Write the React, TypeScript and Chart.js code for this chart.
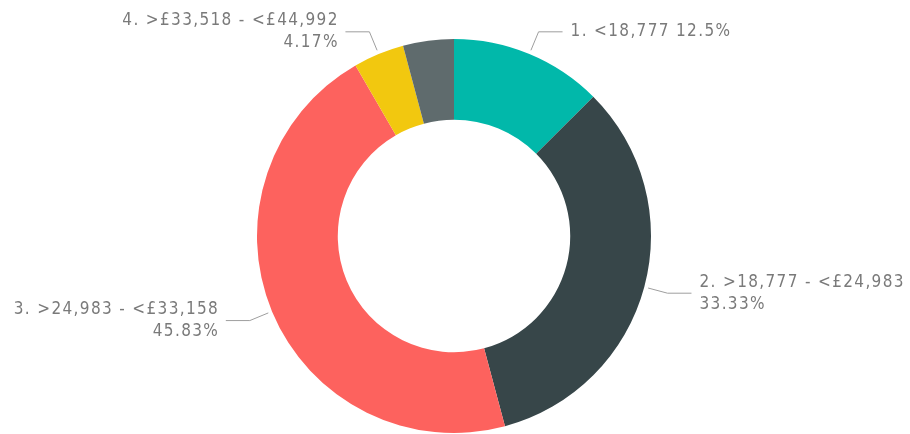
import React, { useEffect, useRef } from "react";
import { Chart, registerables } from "chart.js";

Chart.register(...registerables);

const categories = [
  "1. <18,777",
  "2. >18,777 - <£24,983",
  "3. >24,983 - <£33,158",
  "4. >£33,518 - <£44,992",
  "5. >£44,992",
];
const values = [3, 8, 11, 1, 1];
const colors = ["#01B8AA", "#374649", "#FD625E", "#F2C80F", "#5F6B6D"];
const showLabel = [true, true, true, true, false];
const singleLine = [true, false, false, false, false];

const FONT = '17px "DejaVu Sans Condensed", "DejaVu Sans", sans-serif';
const SPACING = 1.35;

function pct(v: number, total: number): string {
  const p = (v / total) * 100;
  return parseFloat(p.toFixed(2)).toString() + "%";
}

const leaderLabels = {
  id: "leaderLabels",
  afterDraw(chart: any) {
    const ctx = chart.ctx as CanvasRenderingContext2D;
    const meta = chart.getDatasetMeta(0);
    const total = values.reduce((a, b) => a + b, 0);
    ctx.save();
    ctx.font = FONT;
    (ctx as any).letterSpacing = SPACING + "px";
    meta.data.forEach((arc: any, i: number) => {
      if (!showLabel[i]) return;
      const { x, y, startAngle, endAngle, outerRadius } = arc.getProps(
        ["x", "y", "startAngle", "endAngle", "outerRadius"],
        true
      );
      const mid = (startAngle + endAngle) / 2;
      const c = Math.cos(mid);
      const s = Math.sin(mid);
      const sx = x + c * (outerRadius + 4);
      const sy = y + s * (outerRadius + 4);
      const ex = x + c * (outerRadius + 24);
      const ey = y + s * (outerRadius + 24);
      const dir = c >= 0 ? 1 : -1;
      const hx = ex + dir * 24;
      ctx.strokeStyle = "#9E9E9E";
      ctx.lineWidth = 1;
      ctx.beginPath();
      ctx.moveTo(sx, sy);
      ctx.lineTo(ex, ey);
      ctx.lineTo(hx, ey);
      ctx.stroke();
      ctx.fillStyle = "#7A7A7A";
      ctx.textAlign = dir > 0 ? "left" : "right";
      ctx.textBaseline = "middle";
      const tx = hx + dir * 8 + (dir < 0 ? SPACING : 0);
      const p = pct(values[i], total);
      if (singleLine[i]) {
        ctx.fillText(categories[i] + " " + p, tx, ey);
      } else {
        ctx.fillText(categories[i], tx, ey - 11);
        ctx.fillText(p, tx, ey + 11);
      }
    });
    ctx.restore();
  },
};

export default function App() {
  const ref = useRef<HTMLCanvasElement | null>(null);
  useEffect(() => {
    document.body.style.margin = "0";
    const canvas = ref.current;
    if (!canvas) return;
    const chart = new Chart(canvas, {
      type: "doughnut",
      data: {
        labels: categories,
        datasets: [
          {
            data: values,
            backgroundColor: colors,
            borderWidth: 0,
          },
        ],
      },
      options: {
        responsive: false,
        animation: false,
        cutout: "59%",
        layout: { padding: { top: 39, bottom: 1, left: 0, right: 2 } },
        plugins: {
          legend: { display: false },
          tooltip: { enabled: false },
        },
      },
      plugins: [leaderLabels],
    });
    return () => chart.destroy();
  }, []);
  return (
    <div style={{ width: 910, height: 434, background: "#fff" }}>
      <canvas ref={ref} width={910} height={434} style={{ display: "block" }} />
    </div>
  );
}
